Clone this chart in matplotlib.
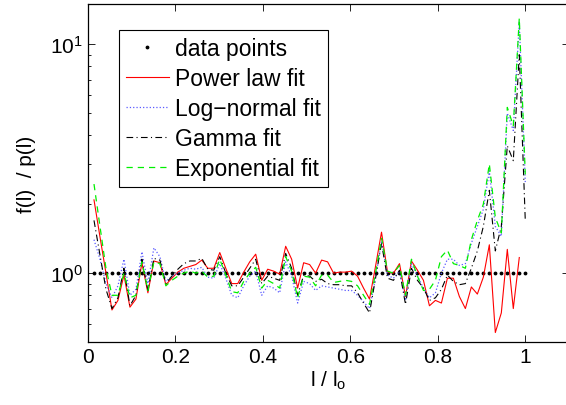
import numpy as np
import matplotlib
matplotlib.use("Agg")
import matplotlib.pyplot as plt

plt.rcParams['font.family'] = ['Liberation Sans', 'DejaVu Sans']
plt.rcParams['mathtext.fontset'] = 'custom'
plt.rcParams['mathtext.rm'] = 'Liberation Sans'
plt.rcParams['mathtext.it'] = 'Liberation Sans'

# bin centres l / l_o
n_bins = 73
x = np.arange(1, n_bins + 1) / n_bins

data_points = np.ones(n_bins)

power_law = [2.09, 1.44, 1.0, 0.69, 0.76, 0.98, 0.71, 0.77, 1.11, 0.82,
             1.13, 1.11, 0.89, 0.95, 1.01, 1.05, 1.07, 1.09, 1.14, 1.05,
             1.05, 1.23, 1.05, 0.90, 0.90, 1.01, 1.12, 1.21, 0.93, 1.04,
             1.02, 0.99, 1.31, 1.15, 0.86, 1.11, 1.09, 1.0, 1.14, 1.12,
             1.0, 1.01, 1.01, 1.02, 0.97, 0.86, 0.77, 1.07, 1.51, 1.01,
             1.0, 1.10, 0.79, 1.13, 1.03, 0.93, 0.72, 0.76, 0.74, 0.95,
             0.95, 0.79, 0.70, 0.87, 0.81, 0.96, 1.33, 0.55, 0.67, 1.27,
             0.70, 1.17, np.nan]

log_normal = [1.4, 1.15, 0.9, 0.78, 0.88, 1.15, 0.80, 0.85, 1.24, 0.90,
              1.29, 1.18, 0.92, 0.97, 1.0, 1.03, 1.05, 1.04, 1.06, 0.96,
              0.95, 1.1, 0.95, 0.80, 0.78, 0.88, 0.97, 1.02, 0.80, 0.88,
              0.86, 0.82, 1.12, 0.97, 0.74, 0.92, 0.90, 0.84, 0.88, 0.87,
              0.86, 0.85, 0.84, 0.84, 0.80, 0.75, 0.70, 0.95, 1.38, 0.98,
              0.95, 1.02, 0.76, 1.10, 0.97, 0.86, 0.78, 0.82, 1.0, 1.15,
              1.15, 1.08, 1.1, 1.35, 1.6, 1.9, 2.8, 1.6, 1.45, 5.0,
              4.2, 12.5, 2.5]

gamma = [1.7, 1.2, 0.85, 0.70, 0.78, 1.05, 0.72, 0.80, 1.15, 0.84,
         1.16, 1.14, 0.90, 0.97, 1.04, 1.10, 1.13, 1.13, 1.16, 1.04,
         1.03, 1.18, 1.0, 0.88, 0.88, 0.96, 1.05, 1.15, 0.90, 0.97,
         0.95, 0.93, 1.22, 1.05, 0.80, 0.98, 0.97, 0.92, 0.94, 0.90,
         0.89, 0.89, 0.88, 0.88, 0.82, 0.74, 0.67, 0.95, 1.35, 0.95,
         0.93, 1.03, 0.73, 1.05, 0.93, 0.86, 0.76, 0.78, 0.85, 0.98,
         0.92, 0.89, 0.90, 1.05, 1.25, 1.6, 2.3, 1.25, 1.6, 3.6,
         3.1, 9.0, 1.7]

exponential = [2.45, 1.6, 1.05, 0.80, 0.80, 1.0, 0.78, 0.80, 1.12, 0.84,
               1.12, 1.10, 0.88, 0.93, 0.97, 1.0, 1.02, 1.0, 1.02, 0.96,
               0.97, 1.15, 0.98, 0.83, 0.82, 0.92, 1.0, 1.06, 0.86, 0.93,
               0.90, 0.86, 1.18, 1.02, 0.78, 0.97, 0.96, 0.88, 0.98, 0.98,
               0.91, 0.92, 0.93, 0.92, 0.88, 0.80, 0.73, 1.0, 1.42, 1.02,
               1.0, 1.08, 0.80, 1.15, 0.97, 0.84, 0.85, 0.93, 1.18, 1.26,
               1.1, 1.08, 1.05, 1.4, 1.7, 2.0, 3.0, 1.75, 1.5, 5.3,
               4.4, 13.0, 2.7]

fig = plt.figure(figsize=(5.66, 4.06), dpi=100)
ax = fig.add_axes([88 / 566, 63 / 406, 481 / 566, 338 / 406])

ax.plot(x, data_points, '.', color='k', markersize=3.5, label='data points')
ax.plot(x, power_law, '-', color='r', lw=0.8, label='Power law fit')
ax.plot(x, log_normal, ':', color='#5a5aff', lw=0.9, label='Log\u2212normal fit')
ax.plot(x, gamma, color='k', lw=0.8, dashes=(6, 3, 1, 3), label='Gamma fit')
ax.plot(x, exponential, color='#00f000', lw=0.9, dashes=(5, 4), label='Exponential fit')

ax.set_yscale('log')
ax.set_xlim(0, 1.1)
ax.set_ylim(0.5, 15)
ax.set_xticks([0, 0.2, 0.4, 0.6, 0.8, 1])
ax.set_xticklabels(['0', '0.2', '0.4', '0.6', '0.8', '1'])

ax.tick_params(which='both', direction='in', top=True, right=True, labelsize=15, width=0.6)
ax.tick_params(which='major', length=5)
ax.tick_params(which='minor', length=2.5)
for s in ax.spines.values():
    s.set_linewidth(0.9)

ax.set_xlabel('l / l$_\\mathrm{o}$', fontsize=15, labelpad=2)
ax.set_ylabel('f(l)  / p(l)', fontsize=15, labelpad=10)

leg = ax.legend(loc='upper left', bbox_to_anchor=(0.064, 0.922), fontsize=16.5,
                numpoints=1, handlelength=1.9, handletextpad=0.25,
                borderpad=0.3, labelspacing=0.3, borderaxespad=0,
                fancybox=False, framealpha=1)
leg.get_frame().set_edgecolor('k')
leg.get_frame().set_linewidth(0.8)

fig.savefig('out.png', dpi=100)
